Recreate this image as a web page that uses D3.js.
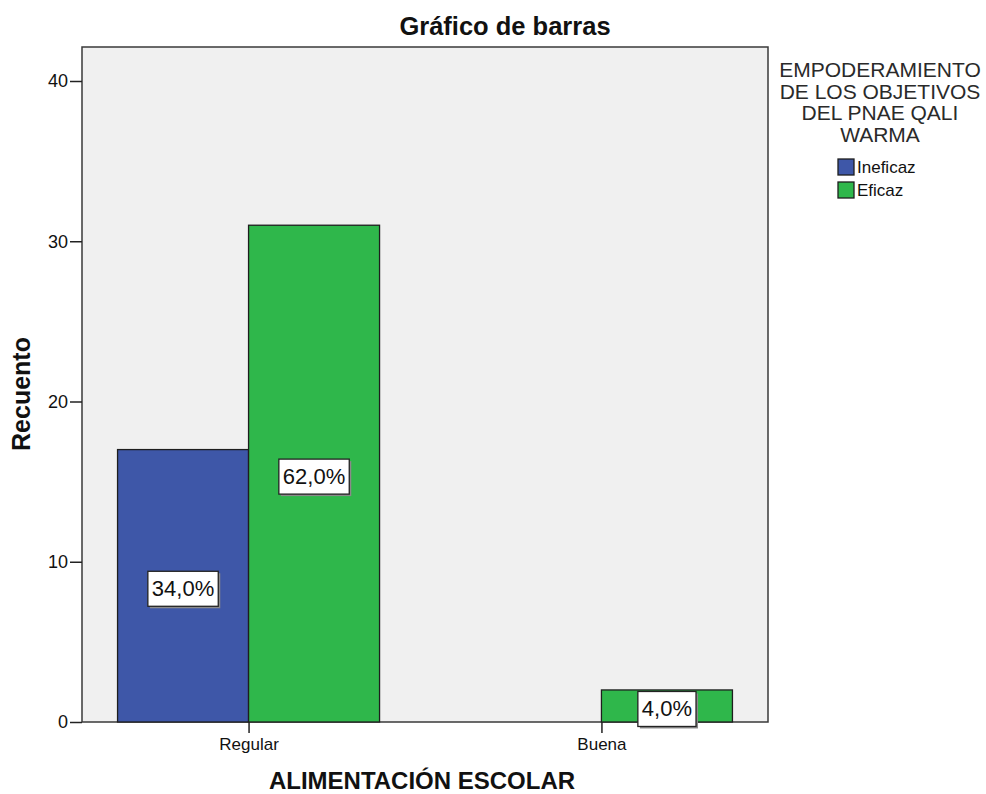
<!DOCTYPE html>
<html><head><meta charset="utf-8">
<script src="https://cdn.jsdelivr.net/npm/d3@7"></script>
<style>body{margin:0;background:#fff;} text{font-family:"Liberation Sans",Arial,sans-serif;}</style>
</head><body>
<svg id="c" width="986" height="794"></svg>
<script>
const categories = ["Regular", "Buena"];
const series = ["Ineficaz", "Eficaz"];
const ineficaz = [17, 0];
const eficaz = [31, 2];
const pctLabels = [["34,0%", null], ["62,0%", "4,0%"]];
const yTicks = [0, 10, 20, 30, 40];
const colors = ["#3e57a8", "#2fb74b"];
const legendTitle = ["EMPODERAMIENTO", "DE LOS OBJETIVOS", "DEL PNAE QALI", "WARMA"];

const svg = d3.select("#c");
const L = 82, R = 768, T = 47, B = 722;
const x = d3.scalePoint().domain(categories).range([L, R]).padding(0.472);
const y = d3.scaleLinear().domain([0, 40]).range([B, 81]);
const barW = 131;
const vals = [ineficaz, eficaz];

svg.append("rect").attr("x", L).attr("y", T).attr("width", R - L).attr("height", B - T)
  .attr("fill", "#f0f0f0").attr("stroke", "#3a3a3a").attr("stroke-width", 1.5);

// bars
series.forEach((s, si) => {
  categories.forEach((c, ci) => {
    const v = vals[si][ci];
    if (!v) return;
    const x0 = si === 0 ? x(c) - barW : x(c);
    svg.append("rect").attr("x", x0).attr("y", y(v)).attr("width", barW).attr("height", B - y(v))
      .attr("fill", colors[si]).attr("stroke", "#1e1e1e").attr("stroke-width", 1.3);
  });
});

// labels
series.forEach((s, si) => {
  categories.forEach((c, ci) => {
    const lab = pctLabels[si][ci];
    if (!lab) return;
    const v = vals[si][ci];
    const cx = (si === 0 ? x(c) - barW / 2 : x(c) + barW / 2);
    const cy = y(v / 2) + 3;
    const g = svg.append("g");
    const t = g.append("text").attr("x", cx).attr("y", cy).attr("text-anchor", "middle")
      .attr("dominant-baseline", "central").attr("font-size", 22).attr("fill", "#111").text(lab);
    const w = t.node().getComputedTextLength() + 8;
    const h = 35;
    g.insert("rect", "text").attr("x", cx - w / 2 + 2).attr("y", cy - h / 2 + 2).attr("width", w).attr("height", h)
      .attr("fill", "#8a8a8a");
    g.insert("rect", "text").attr("x", cx - w / 2).attr("y", cy - h / 2).attr("width", w).attr("height", h)
      .attr("fill", "#fff").attr("stroke", "#222").attr("stroke-width", 1.3);
  });
});

// axes
const yAxis = svg.append("g").attr("transform", `translate(${L},0)`)
  .call(d3.axisLeft(y).tickValues(yTicks).tickSize(12).tickPadding(2));
yAxis.select(".domain").remove();
yAxis.selectAll("line").attr("stroke", "#222").attr("stroke-width", 1.5);
yAxis.selectAll("text").attr("font-size", 18).attr("fill", "#111").attr("font-family", "Liberation Sans, Arial");

const xAxis = svg.append("g").attr("transform", `translate(0,${B})`)
  .call(d3.axisBottom(x).tickSize(11).tickPadding(5));
xAxis.select(".domain").remove();
xAxis.selectAll("line").attr("stroke", "#222").attr("stroke-width", 1.5);
xAxis.selectAll("text").attr("font-size", 17).attr("fill", "#111").attr("font-family", "Liberation Sans, Arial");

// titles
svg.append("text").attr("x", 505).attr("y", 35).attr("text-anchor", "middle")
  .attr("font-size", 25.5).attr("font-weight", "bold").attr("fill", "#111").text("Gráfico de barras");
svg.append("text").attr("x", 422).attr("y", 789).attr("text-anchor", "middle")
  .attr("font-size", 24).attr("font-weight", "bold").attr("fill", "#111").text("ALIMENTACIÓN ESCOLAR");
svg.append("text").attr("transform", `translate(30,394) rotate(-90)`).attr("text-anchor", "middle")
  .attr("font-size", 25).attr("font-weight", "bold").attr("fill", "#111").text("Recuento");

// legend
legendTitle.forEach((l, i) => {
  svg.append("text").attr("x", 880).attr("y", 77 + i * 21.5).attr("text-anchor", "middle")
    .attr("font-size", 21).attr("fill", "#2a2a2a").text(l);
});
series.forEach((s, i) => {
  const yy = 159 + i * 23;
  svg.append("rect").attr("x", 838).attr("y", yy).attr("width", 16).attr("height", 16)
    .attr("fill", colors[i]).attr("stroke", "#1e1e1e").attr("stroke-width", 1.3);
  svg.append("text").attr("x", 857).attr("y", yy + 8).attr("dominant-baseline", "central")
    .attr("font-size", 17).attr("fill", "#111").text(s);
});
</script>
</body></html>
